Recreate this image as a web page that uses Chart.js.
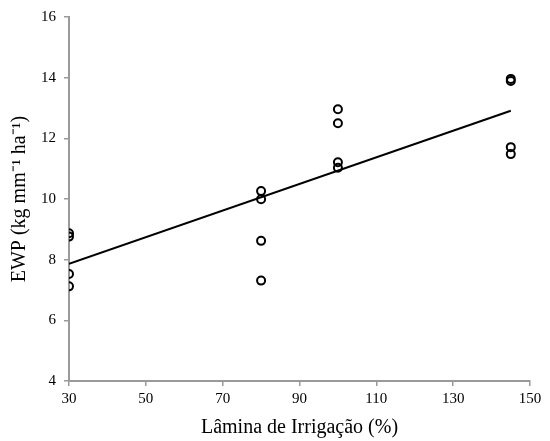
<!DOCTYPE html>
<html>
<head>
<meta charset="utf-8">
<script src="https://cdn.jsdelivr.net/npm/chart.js@4/dist/chart.umd.min.js"></script>
<style>
html,body{margin:0;padding:0;background:#fff;}
#wrap{width:550px;height:441px;position:relative;}
</style>
</head>
<body>
<div id="wrap"><canvas id="c" width="550" height="441"></canvas></div>
<script>
// Observed data (irrigation level %, EWP)
const xValues = [30,30,30,30, 80,80,80,80, 100,100,100,100, 145,145,145,145];
const yValues = [8.87,8.76,7.53,7.12, 10.26,9.99,8.62,7.31, 12.96,12.5,11.21,11.03, 13.96,13.89,11.71,11.48];
// Trend line end points
const trendX = [30, 145];
const trendY = [7.86, 12.91];
const xTicks = [30,50,70,90,110,130,150];
const yTicks = [4,6,8,10,12,14,16];
const xTitle = 'Lâmina de Irrigação (%)';
const yTitle = 'EWP (kg mm⁻¹ ha⁻¹)';

const pts = xValues.map((x,i)=>({x:x,y:yValues[i]}));
const line = trendX.map((x,i)=>({x:x,y:trendY[i]}));
const axisColor = '#9a9a9a';
const fontFam = '"Liberation Serif", "Times New Roman", serif';

new Chart(document.getElementById('c'), {
  type: 'scatter',
  data: {
    datasets: [
      {data: pts, pointRadius: 4, pointBorderWidth: 2, pointBorderColor: '#000', pointBackgroundColor: 'rgba(255,255,255,0)', showLine: false, order: 1},
      {type: 'line', data: line, showLine: true, borderColor: '#000', borderWidth: 2, pointRadius: 0, fill: false, order: 2}
    ]
  },
  options: {
    responsive: false,
    animation: false,
    devicePixelRatio: 1,
    layout: {padding: {left: 0, right: 20, top: 14, bottom: 0}},
    plugins: {legend: {display: false}, tooltip: {enabled: false}},
    scales: {
      x: {
        type: 'linear', min: 30, max: 150,
        afterBuildTicks: s => { s.ticks = xTicks.map(v=>({value:v})); },
        afterFit: s => { s.height = 60; },
        grid: {drawOnChartArea: false, drawTicks: true, tickLength: 5, color: axisColor, lineWidth: 1.5},
        border: {color: axisColor, width: 2},
        ticks: {color: '#000', font: {family: fontFam, size: 15}, padding: 4, maxRotation: 0},
        title: {display: true, text: xTitle, color: '#000', font: {family: fontFam, size: 20}, padding: {top: 4, bottom: 1}}
      },
      y: {
        type: 'linear', min: 4, max: 16,
        afterBuildTicks: s => { s.ticks = yTicks.map(v=>({value:v})); },
        afterFit: s => { s.width = 69; },
        grid: {drawOnChartArea: false, drawTicks: true, tickLength: 5, color: axisColor, lineWidth: 1.5},
        border: {color: axisColor, width: 2},
        ticks: {color: '#000', font: {family: fontFam, size: 15}, padding: 8},
        title: {display: true, text: yTitle, color: '#000', font: {family: fontFam, size: 20}, padding: {top: 8, bottom: 4}}
      }
    }
  }
});
</script>
</body>
</html>
